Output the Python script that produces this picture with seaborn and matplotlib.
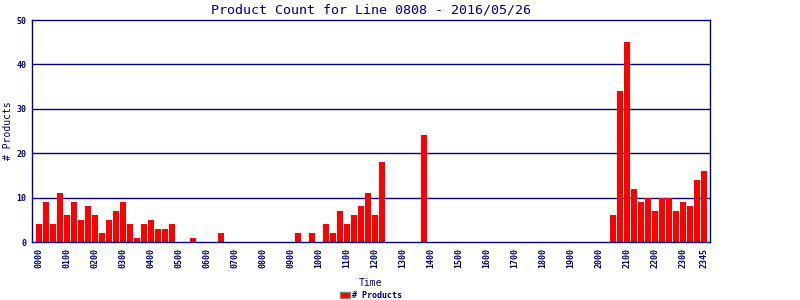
import matplotlib
matplotlib.use("Agg")
import matplotlib.pyplot as plt
import seaborn as sns
import pandas as pd

# 15-minute time slots (categories)
times = [f"{h:02d}{m:02d}" for h in range(24) for m in (0, 15, 30, 45)]

counts = [
    4, 9, 4, 11, 6, 9, 5, 8, 6, 2, 5, 7, 9, 4, 1, 4, 5, 3, 3, 4,   # 0000-0445
    0, 0, 1, 0, 0, 0, 2, 0,                                         # 0500-0645
    0, 0, 0, 0, 0, 0, 0, 0, 0,                                      # 0700-0900
    2, 0, 2, 0, 4, 2, 7, 4, 6, 8, 11, 6, 18,                        # 0915-1215
    0, 0, 0, 0, 0, 24,                                              # 1230-1345
    0, 0, 0, 0, 0, 0, 0, 0, 0, 0, 0, 0, 0,                          # 1400-1700
    0, 0, 0, 0, 0, 0, 0, 0, 0, 0, 0, 0, 0,                          # 1715-2015
    6, 34, 45, 12, 9, 10, 7, 10, 10, 7, 9, 8, 14, 16,               # 2030-2345
]

tick_labels = ["0000", "0100", "0200", "0300", "0400", "0500", "0600", "0700",
               "0800", "0900", "1000", "1100", "1200", "1300", "1400", "1500",
               "1600", "1700", "1800", "1900", "2000", "2100", "2200", "2300", "2345"]

title = "Product Count for Line 0808 - 2016/05/26"
navy = "#000080"

df = pd.DataFrame({"Time": times, "Count": counts})

sns.set_style("white")
plt.rcParams["font.family"] = ["DejaVu Sans Mono", "DejaVu Sans"]

fig = plt.figure(figsize=(8, 3), dpi=100)
ax = fig.add_axes([0.0396, 0.1933, 0.848, 0.74])

for y in [10, 20, 30, 40]:
    ax.axhline(y, color=navy, lw=1.0, zorder=0)

sns.barplot(data=df, x="Time", y="Count", color="#ff0000", saturation=1,
            width=0.86, label="# Products", ax=ax, zorder=2, linewidth=0)

ax.set_ylim(0, 50)
ax.set_xlim(-1.05, 95.85)
ax.set_yticks([0, 10, 20, 30, 40, 50])
ax.set_yticklabels(["0", "10", "20", "30", "40", "50"], fontsize=6,
                   fontweight="bold", color=navy)
pos = [times.index(t) for t in tick_labels]
ax.set_xticks(pos)
ax.set_xticklabels(tick_labels, rotation=90, fontsize=6, fontweight="bold",
                   color=navy)
ax.tick_params(axis="both", length=0, pad=4)

for s in ax.spines.values():
    s.set_color(navy)
    s.set_linewidth(1.0)
    s.set_visible(True)

ax.set_title(title, fontsize=9.6, color=navy, pad=5)
ax.set_xlabel("Time", fontsize=7, color=navy)
ax.set_ylabel("# Products", fontsize=7, color=navy)
ax.xaxis.set_label_coords(0.5, -0.16)
ax.yaxis.set_label_coords(-0.027, 0.5)

leg = ax.legend(loc="center", bbox_to_anchor=(0.5, -0.24), frameon=False,
                handlelength=1.2, handleheight=0.8, borderpad=0,
                handletextpad=0.3, prop={"weight": "bold", "size": 6})
for t in leg.get_texts():
    t.set_color(navy)
for h in leg.legend_handles:
    h.set_edgecolor("#808080")
    h.set_linewidth(1.0)

fig.savefig("out.png", dpi=100)
